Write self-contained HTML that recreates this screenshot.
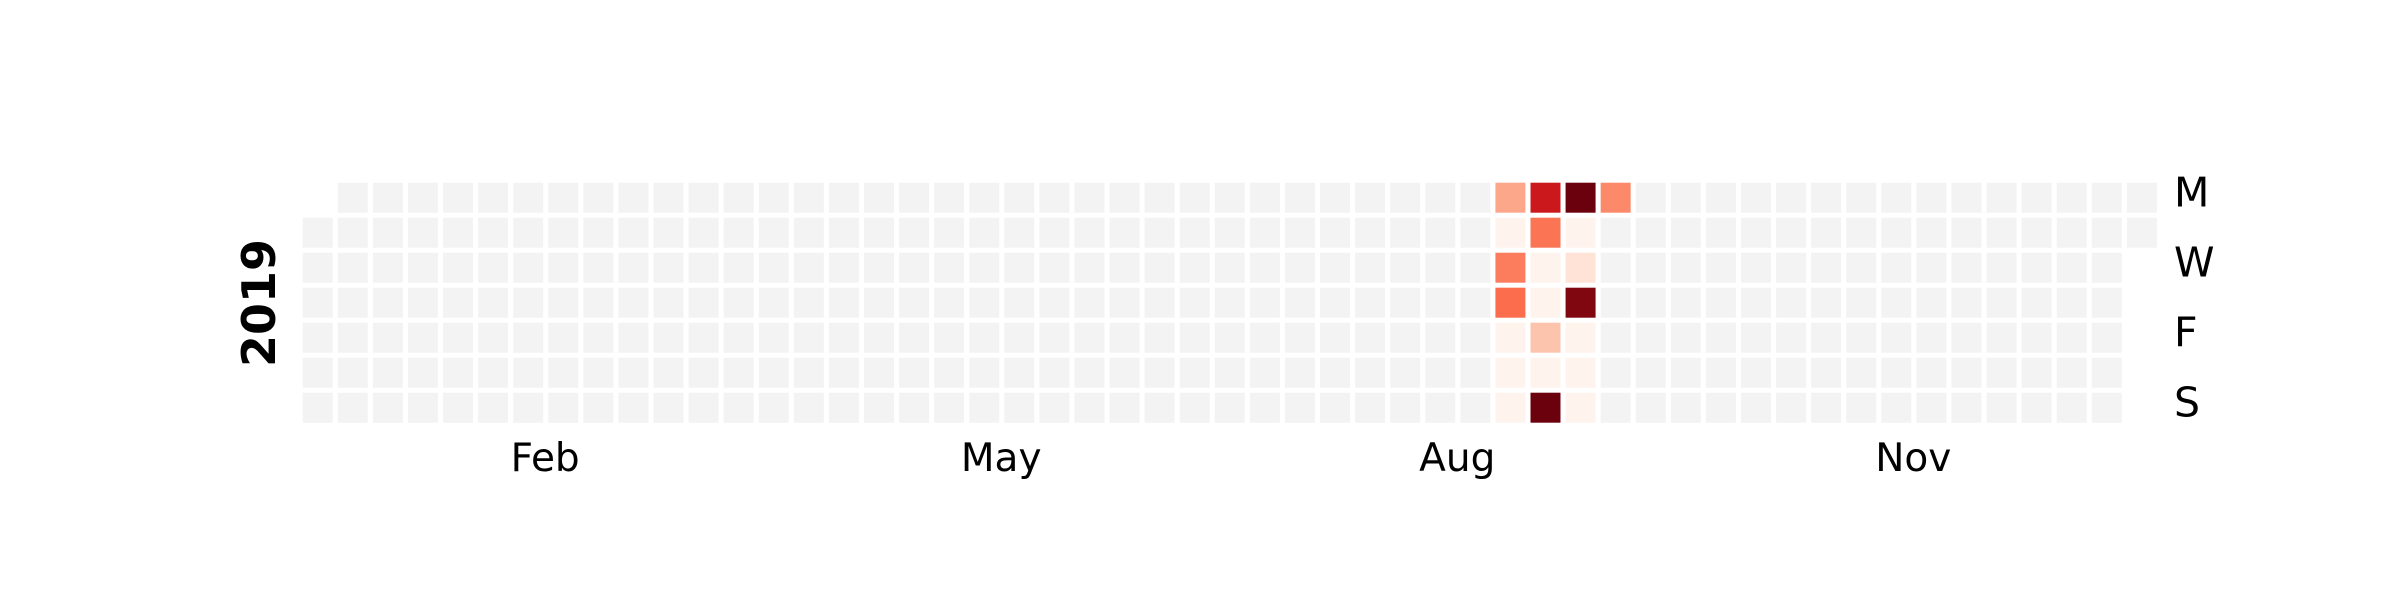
<!DOCTYPE html>
<html><head><meta charset="utf-8"><style>
html,body{margin:0;padding:0;background:#fff;}
svg{display:block;}
text{font-family:"DejaVu Sans","Liberation Sans",sans-serif;fill:#000;}
</style></head><body>
<svg id="chart" width="2400" height="600" viewBox="0 0 2400 600">
<g id="cells"></g>
<g id="labels"></g>
</svg>
<script>
const year = 2019;
const dataDates = ["2019-08-26","2019-08-27","2019-08-28","2019-08-29","2019-08-30","2019-08-31","2019-09-01",
"2019-09-02","2019-09-03","2019-09-04","2019-09-05","2019-09-06","2019-09-07","2019-09-08",
"2019-09-09","2019-09-10","2019-09-11","2019-09-12","2019-09-13","2019-09-14","2019-09-15",
"2019-09-16"];
const dataValues = [31,1,44,49,1,1,1,
75,47,1,1,22,1,99,
99,1,11,95,1,1,1,
40];
const dayLabels = ["M","W","F","S"];
const dayLabelRows = [0,2,4,6];
const monthLabels = ["Feb","May","Aug","Nov"];
const monthIdx = [1,4,7,10];
const vmax = 100;

const X0 = 302.7, PITCH_X = 35.08, Y0 = 182.7, PITCH_Y = 35, CELL = 30;
const stops = ["#fff5f0","#fee0d2","#fcbba1","#fc9272","#fb6a4a","#ef3b2c","#cb181d","#a50f15","#67000d"];
function hex(c){return [1,3,5].map(i=>parseInt(c.substr(i,2),16));}
function reds(t){
  t=Math.max(0,Math.min(1,t));
  const p=t*(stops.length-1), i=Math.min(stops.length-2,Math.floor(p)), f=p-i;
  const a=hex(stops[i]), b=hex(stops[i+1]);
  return "rgb("+a.map((v,k)=>Math.round(v+(b[k]-v)*f)).join(",")+")";
}
const ns="http://www.w3.org/2000/svg";
const jan1 = new Date(Date.UTC(year,0,1));
const offset = (jan1.getUTCDay()+6)%7;
function pos(d){
  const doy = Math.round((d - jan1)/86400000);
  const k = doy + offset;
  return {col: Math.floor(k/7), row: k%7};
}
function xScale(col){return X0 + col*PITCH_X;}
function yScale(row){return Y0 + row*PITCH_Y;}
const valMap = {};
dataDates.forEach((d,i)=>{valMap[d]=dataValues[i];});
const cells = document.getElementById('cells');
for(let d=new Date(jan1); d.getUTCFullYear()===year; d=new Date(d.getTime()+86400000)){
  const key = d.toISOString().slice(0,10);
  const p = pos(d);
  const r = document.createElementNS(ns,'rect');
  r.setAttribute('x', xScale(p.col));
  r.setAttribute('y', yScale(p.row));
  r.setAttribute('width', CELL);
  r.setAttribute('height', CELL);
  const v = valMap[key];
  r.setAttribute('fill', v===undefined ? '#f3f3f3' : reds(v/vmax));
  
  
  cells.appendChild(r);
}
const labels = document.getElementById('labels');
dayLabels.forEach((t,i)=>{
  const el = document.createElementNS(ns,'text');
  el.setAttribute('x', 2174);
  el.setAttribute('y', yScale(dayLabelRows[i]) + CELL/2 + 9);
  el.setAttribute('font-size', 41);
  el.textContent = t;
  
  
  labels.appendChild(el);
});
monthLabels.forEach((t,i)=>{
  const m = monthIdx[i];
  const first = pos(new Date(Date.UTC(year,m,1))).col;
  const last = pos(new Date(Date.UTC(year,m+1,0))).col;
  const cx = xScale((first+last)/2) + CELL/2 + 17;
  const el = document.createElementNS(ns,'text');
  el.setAttribute('x', cx);
  el.setAttribute('y', 471);
  el.setAttribute('font-size', 39);
  el.setAttribute('text-anchor', 'middle');
  el.textContent = t;
  
  
  labels.appendChild(el);
});
const yl = document.createElementNS(ns,'text');
yl.setAttribute('x', 0);
yl.setAttribute('y', 0);
yl.setAttribute('font-size', 46);
yl.setAttribute('font-weight', 'bold');
yl.setAttribute('text-anchor', 'middle');
yl.setAttribute('transform', 'translate(275,303) rotate(-90)');
yl.setAttribute('font-family', '"Liberation Sans", sans-serif');
yl.textContent = String(year);


labels.appendChild(yl);
</script>
</body></html>
